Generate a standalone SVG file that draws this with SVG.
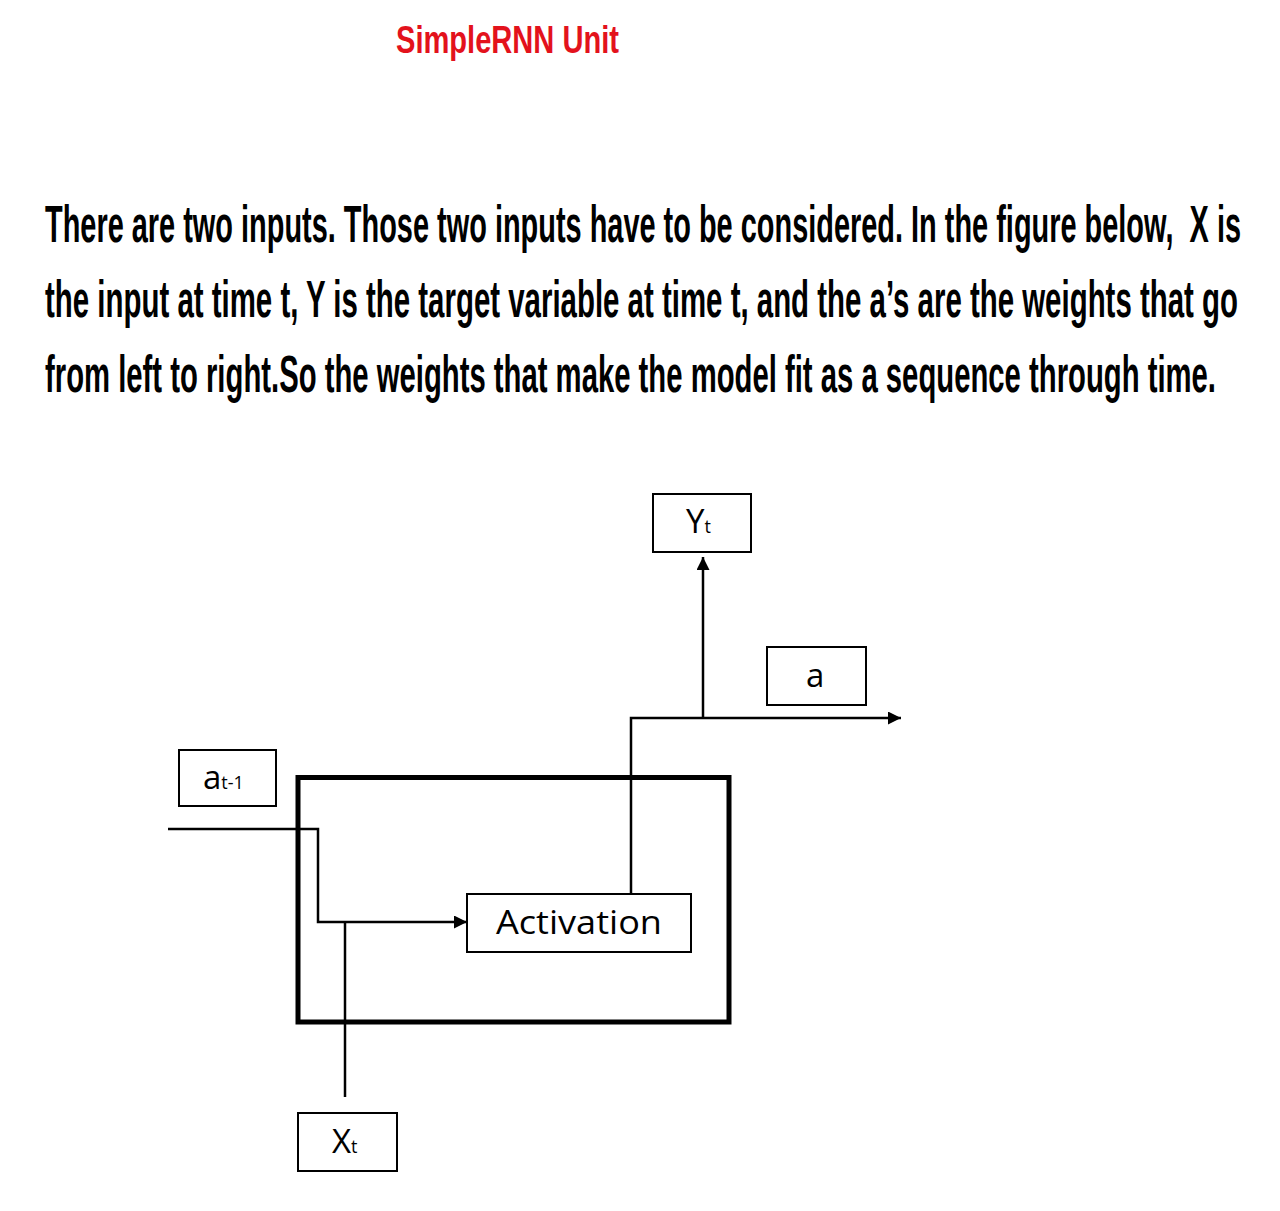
<svg xmlns="http://www.w3.org/2000/svg" width="1280" height="1211" viewBox="0 0 1280 1211">
<style>
.title{font-family:"Liberation Sans Narrow","Liberation Sans",Arial,sans-serif;font-weight:bold;font-size:39px;fill:#e3121c}
.para{font-family:"Liberation Sans Narrow","Liberation Sans",Arial,sans-serif;font-weight:bold;font-size:52px;fill:#000}
.lbl{font-family:"Open Sans","DejaVu Sans",sans-serif;font-size:33px;fill:#000}
.sub{font-family:"Open Sans","DejaVu Sans",sans-serif;font-size:18px;fill:#000}
.box{fill:#fff;stroke:#000;stroke-width:2}
.wire{fill:none;stroke:#000;stroke-width:2.5}
</style>
<defs>
<marker id="ah" markerUnits="userSpaceOnUse" markerWidth="14" markerHeight="14" refX="13" refY="6.5" orient="auto">
<path d="M0,0 L13,6.5 L0,13 z" fill="#000"/>
</marker>
</defs>
<rect width="1280" height="1211" fill="#fff"/>
<text class="title" x="396" y="53" textLength="223" lengthAdjust="spacingAndGlyphs">SimpleRNN Unit</text>
<text class="para" x="45" y="242" textLength="1196" lengthAdjust="spacingAndGlyphs" xml:space="preserve">There are two inputs. Those two inputs have to be considered. In the figure below,  X is</text>
<text class="para" x="45" y="317" textLength="1193" lengthAdjust="spacingAndGlyphs">the input at time t, Y is the target variable at time t, and the a’s are the weights that go</text>
<text class="para" x="45" y="392" textLength="1171" lengthAdjust="spacingAndGlyphs">from left to right.So the weights that make the model fit as a sequence through time.</text>
<g id="cell">
<rect x="298" y="777.5" width="431" height="244.5" fill="none" stroke="#000" stroke-width="5"/>
</g>
<g id="connectors">
<path class="wire" d="M168,829 H318 V922 H467" marker-end="url(#ah)"/>
<path class="wire" d="M345,1097 V922"/>
<path class="wire" d="M631,894 V718 H901" marker-end="url(#ah)"/>
<path class="wire" d="M703,718 V557" marker-end="url(#ah)"/>
</g>
<g id="node-activation">
<rect class="box" x="467" y="894" width="224" height="58"/>
<text class="lbl" x="496" y="934" textLength="166" lengthAdjust="spacingAndGlyphs">Activation</text>
</g>
<g id="node-at-1">
<rect class="box" x="179" y="750" width="97" height="56"/>
<text x="203" y="789"><tspan class="lbl">a</tspan><tspan class="sub">t-1</tspan></text>
</g>
<g id="node-yt">
<rect class="box" x="653" y="494" width="98" height="58"/>
<text x="686" y="533"><tspan class="lbl">Y</tspan><tspan class="sub">t</tspan></text>
</g>
<g id="node-a">
<rect class="box" x="767" y="647" width="99" height="58"/>
<text class="lbl" x="806" y="687">a</text>
</g>
<g id="node-xt">
<rect class="box" x="298" y="1113" width="99" height="58"/>
<text x="332" y="1153"><tspan class="lbl">X</tspan><tspan class="sub">t</tspan></text>
</g>
</svg>
